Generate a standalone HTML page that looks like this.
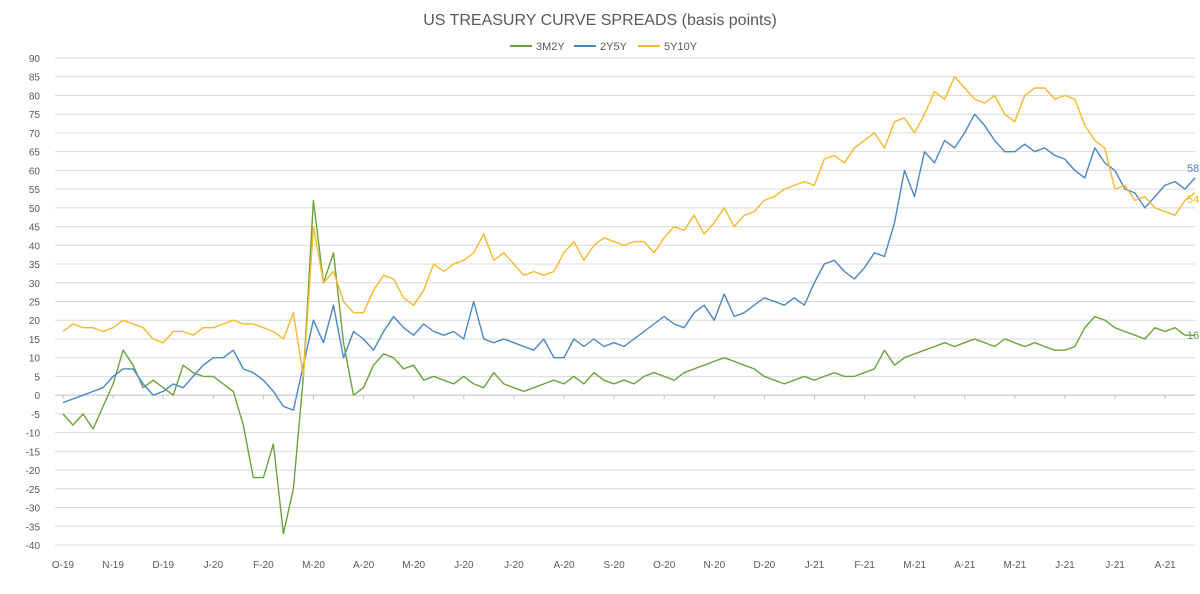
<!DOCTYPE html>
<html><head><meta charset="utf-8"><style>
body{margin:0;background:#fff;font-family:"Liberation Sans",sans-serif}
svg text{font-family:"Liberation Sans",sans-serif}
</style></head><body>
<svg id="chart" width="1200" height="589">
<text x="600" y="25" text-anchor="middle" font-size="16" fill="#595959">US TREASURY CURVE SPREADS (basis points)</text>
<g font-size="11" fill="#595959">
<g><line x1="510" y1="46" x2="532" y2="46" stroke="#6aa33a" stroke-width="2"/><text x="536" y="50">3M2Y</text></g>
<g><line x1="574" y1="46" x2="596" y2="46" stroke="#4a86c5" stroke-width="2"/><text x="600" y="50">2Y5Y</text></g>
<g><line x1="638" y1="46" x2="660" y2="46" stroke="#f5b82e" stroke-width="2"/><text x="664" y="50">5Y10Y</text></g>
</g>
<g id="grid"></g><g id="axes"></g><g id="series"></g>
</svg>
<script>
const yTicks=[90,85,80,75,70,65,60,55,50,45,40,35,30,25,20,15,10,5,0,-5,-10,-15,-20,-25,-30,-35,-40];
const monthLabels=["O-19","N-19","D-19","J-20","F-20","M-20","A-20","M-20","J-20","J-20","A-20","S-20","O-20","N-20","D-20","J-21","F-21","M-21","A-21","M-21","J-21","J-21","A-21"];
const s5y10y=[17,19,18,18,17, 18,20,19,18,15, 14,17,17,16,18, 18,19,20,19,19, 18,17,15,22,5, 45,30,33,25,22, 22,28,32,31,26, 24,28,35,33,35, 36,38,43,36,38, 35,32,33,32,33, 38,41,36,40,42, 41,40,41,41,38, 42,45,44,48,43, 46,50,45,48,49, 52,53,55,56,57, 56,63,64,62,66, 68,70,66,73,74, 70,75,81,79,85, 82,79,78,80,75, 73,80,82,82,79, 80,79,72,68,66, 55,56,52,53,50, 49,48,52,54];
const s2y5y=[-2,-1,0,1,2, 5,7,7,3,0, 1,3,2,5,8, 10,10,12,7,6, 4,1,-3,-4,8, 20,14,24,10,17, 15,12,17,21,18, 16,19,17,16,17, 15,25,15,14,15, 14,13,12,15,10, 10,15,13,15,13, 14,13,15,17,19, 21,19,18,22,24, 20,27,21,22,24, 26,25,24,26,24, 30,35,36,33,31, 34,38,37,46,60, 53,65,62,68,66, 70,75,72,68,65, 65,67,65,66,64, 63,60,58,66,62, 60,55,54,50,53, 56,57,55,58];
const s3m2y=[-5,-8,-5,-9,-3, 3,12,8,2,4, 2,0,8,6,5, 5,3,1,-8,-22, -22,-13,-37,-25,5, 52,30,38,14,0, 2,8,11,10,7, 8,4,5,4,3, 5,3,2,6,3, 2,1,2,3,4, 3,5,3,6,4, 3,4,3,5,6, 5,4,6,7,8, 9,10,9,8,7, 5,4,3,4,5, 4,5,6,5,5, 6,7,12,8,10, 11,12,13,14,13, 14,15,14,13,15, 14,13,14,13,12, 12,13,18,21,20, 18,17,16,15,18, 17,18,16,16];
const NS="http://www.w3.org/2000/svg";
const X0=55,X1=1195,Y0=58,Y1=545;
const yScale=v=>Y0+(90-v)/130*(Y1-Y0);
const xMonth=i=>63+i*50.1;
const xIdx=(i,n)=>63+i*(1195-63)/(n-1);
function mk(tag,attrs,parent){const e=document.createElementNS(NS,tag);for(const k in attrs)e.setAttribute(k,attrs[k]);parent.appendChild(e);return e;}
const grid=document.getElementById('grid'),axes=document.getElementById('axes'),ser=document.getElementById('series');
yTicks.forEach(v=>{
  const y=yScale(v);
  const l=mk('line',{x1:X0,x2:X1,y1:y,y2:y,stroke:v===0?'#bfbfbf':'#d9d9d9','stroke-width':1},grid);
  
  
  const t=mk('text',{x:40,y:y+4,'text-anchor':'end','font-size':10,fill:'#595959'},axes);
  t.textContent=v;
  
  
});
monthLabels.forEach((m,i)=>{
  const x=xMonth(i);
  const tk=mk('line',{x1:x,x2:x,y1:yScale(0),y2:yScale(0)+4,stroke:'#bfbfbf'},axes);
  
  
  const t=mk('text',{x:x,y:568,'text-anchor':'middle','font-size':10,fill:'#595959'},axes);
  t.textContent=m;
  
  
});
function drawSeries(arr,color,name,labelDy){
  const pts=arr.map((v,i)=>xIdx(i,arr.length).toFixed(1)+','+yScale(v).toFixed(1)).join(' ');
  const p=mk('polyline',{points:pts,fill:'none',stroke:color,'stroke-width':1.4,'stroke-linejoin':'round'},ser);
  
  
  const last=arr[arr.length-1];
  const t=mk('text',{x:1187,y:yScale(last)+labelDy,'font-size':11,fill:color},ser);
  t.textContent=last;
  
  
}
drawSeries(s3m2y,'#6aa33a','3m2y',4);
drawSeries(s2y5y,'#4a86c5','2y5y',-6);
drawSeries(s5y10y,'#f5b82e','5y10y',10);
</script>
</body></html>
